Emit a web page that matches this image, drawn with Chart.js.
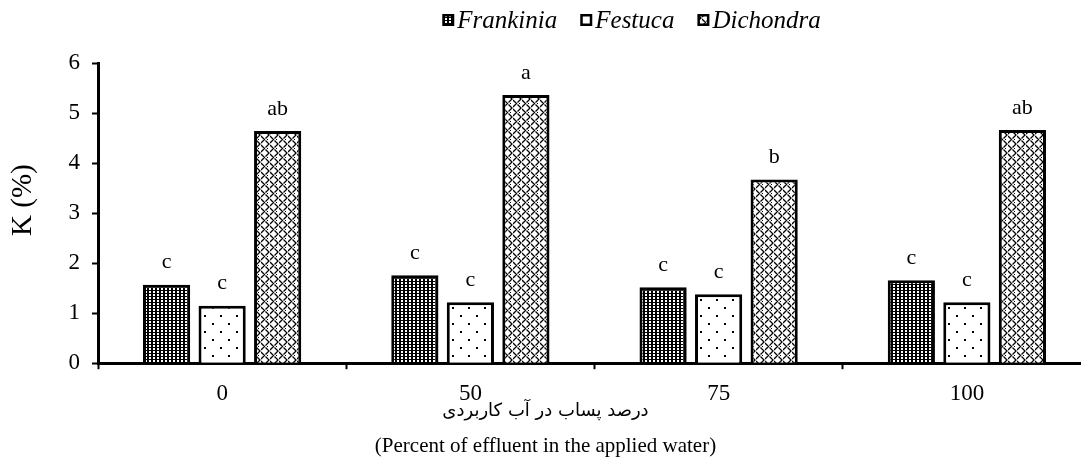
<!DOCTYPE html>
<html>
<head>
<meta charset="utf-8">
<script src="https://cdn.jsdelivr.net/npm/chart.js@4.4.1/dist/chart.umd.min.js"></script>
<style>
  html, body { margin: 0; padding: 0; background: #fff; overflow: hidden; }
  #wrap { width: 1100px; height: 461px; position: relative; }
</style>
</head>
<body>
<div id="wrap"><canvas id="myChart"></canvas></div>
<script>
// les données
const categories = ["0", "50", "75", "100"];
const species = ["Frankinia", "Festuca", "Dichondra"];
const frankinia = [1.57, 1.76, 1.52, 1.66];
const festuca = [1.15, 1.22, 1.38, 1.22];
const dichondra = [4.64, 5.36, 3.67, 4.66];
const lettersFrankinia = ["c", "c", "c", "c"];
const lettersFestuca = ["c", "c", "c", "c"];
const lettersDichondra = ["ab", "a", "b", "ab"];
const yTicks = [0, 1, 2, 3, 4, 5, 6];
const yTitle = "K (%)";

const SERIF = "'Liberation Serif', 'Times New Roman', serif";
const ARABIC = "'DejaVu Sans', sans-serif";

// motifs de remplissage (hachures façon Excel)
function makePattern(w, h, draw) {
  const c = document.createElement("canvas");
  c.width = w;
  c.height = h;
  const g = c.getContext("2d");
  draw(g);
  return document.createElement("canvas").getContext("2d").createPattern(c, "repeat");
}

const patFrankinia = makePattern(4, 3, (g) => {
  g.fillStyle = "#000";
  g.fillRect(0, 0, 4, 3);
  g.fillStyle = "#fff";
  g.fillRect(1, 0, 2, 2);
});

const patFestuca = makePattern(16, 16, (g) => {
  g.fillStyle = "#fff";
  g.fillRect(0, 0, 16, 16);
  g.fillStyle = "#000";
  g.fillRect(4, 3, 2, 2);
  g.fillRect(12, 11, 2, 2);
});

const patDichondra = makePattern(9, 9, (g) => {
  g.fillStyle = "#fff";
  g.fillRect(0, 0, 9, 9);
  g.strokeStyle = "#000";
  g.lineWidth = 1.3;
  g.beginPath();
  g.moveTo(0, 1); g.lineTo(3.5, 4.5); g.lineTo(0, 8);
  g.moveTo(4.5, -3.5); g.lineTo(8, 0); g.lineTo(4.5, 3.5);
  g.moveTo(4.5, 5.5); g.lineTo(8, 9); g.lineTo(4.5, 12.5);
  g.stroke();
  g.fillStyle = "#000";
  g.fillRect(6, 4, 1, 1);
});

const patterns = [patFrankinia, patFestuca, patDichondra];
const letters = [lettersFrankinia, lettersFestuca, lettersDichondra];

// lettres de comparaison au-dessus des barres + titre de l'axe Y
const lettersPlugin = {
  id: "letters",
  afterDatasetsDraw(chart) {
    const c = chart.ctx;
    c.save();
    c.font = "22px " + SERIF;
    c.fillStyle = "#000";
    c.textAlign = "center";
    c.textBaseline = "bottom";
    chart.data.datasets.forEach((ds, i) => {
      chart.getDatasetMeta(i).data.forEach((bar, j) => {
        c.fillText(letters[i][j], bar.x, bar.y - 11);
      });
    });
    // titre Y un peu au-dessus du centre, comme sur l'original
    c.translate(23, chart.chartArea.top + (chart.chartArea.bottom - chart.chartArea.top) / 2 - 13);
    c.rotate(-Math.PI / 2);
    c.font = "29px " + SERIF;
    c.textBaseline = "middle";
    c.fillText(yTitle, 0, 0);
    c.restore();
  },
};

// légende dessinée à la main (décalée à droite comme sur l'original)
const legendPlugin = {
  id: "myLegend",
  afterDraw(chart) {
    const c = chart.ctx;
    c.save();
    c.font = "italic 25px " + SERIF;
    const box = 12, gap = 3, space = 23;
    const widths = species.map((s) => box + gap + c.measureText(s).width);
    const total = widths.reduce((a, b) => a + b, 0) + space * (species.length - 1);
    let x = (chart.chartArea.left + chart.chartArea.right) / 2 + 37 - total / 2;
    const y = 20;
    species.forEach((s, i) => {
      c.fillStyle = "#000";
      c.fillRect(x, y - box / 2, box, box);
      c.fillStyle = i === 1 ? "#fff" : patterns[i];
      c.fillRect(x + 2.5, y - box / 2 + 2.5, box - 5, box - 5);
      c.fillStyle = "#000";
      c.textBaseline = "middle";
      c.textAlign = "left";
      c.fillText(s, x + box + gap, y + 1);
      x += widths[i] + space;
    });
    c.restore();
  },
};

const ctx = document.querySelector("#myChart").getContext("2d");

const CONFIG = {
  type: "bar",
  data: {
    labels: categories,
    datasets: [
      { label: species[0], data: frankinia, backgroundColor: patFrankinia },
      { label: species[1], data: festuca, backgroundColor: patFestuca },
      { label: species[2], data: dichondra, backgroundColor: patDichondra },
    ].map((d) => Object.assign(d, {
      borderColor: "#000",
      borderWidth: 3,
      categoryPercentage: 0.671,
      barPercentage: 0.85,
    })),
  },
  options: {
    responsive: true,
    maintainAspectRatio: false,
    animation: false,
    devicePixelRatio: 1,
    layout: { padding: { top: 63, right: 9, left: 0, bottom: 0 } },
    plugins: {
      legend: { display: false },
      tooltip: { enabled: false },
      title: {
        display: true,
        position: "bottom",
        text: "(Percent of effluent in the applied water)",
        color: "#000",
        font: { family: SERIF, size: 21, weight: "normal" },
        padding: { top: 1, bottom: 2 },
      },
      subtitle: {
        display: true,
        position: "bottom",
        text: "درصد پساب در آب کاربردی",
        color: "#000",
        font: { family: ARABIC, size: 18 },
        padding: { top: 0, bottom: 11 },
      },
    },
    scales: {
      x: {
        border: { color: "#000", width: 3 },
        grid: { drawOnChartArea: false, tickLength: 6, tickColor: "#000", tickWidth: 2 },
        ticks: { color: "#000", font: { family: SERIF, size: 23 }, padding: 11 },
        afterFit(scale) { scale.height = 37; },
      },
      y: {
        min: 0,
        max: 6,
        border: { color: "#000", width: 3 },
        grid: { drawOnChartArea: false, tickLength: 6, tickColor: "#000", tickWidth: 2 },
        afterBuildTicks(scale) { scale.ticks = yTicks.map((v) => ({ value: v })); },
        ticks: { color: "#000", font: { family: SERIF, size: 23 }, padding: 12 },
        afterFit(scale) { scale.width = 98; },
      },
    },
  },
  plugins: [lettersPlugin, legendPlugin],
};

const chartBar = new Chart(ctx, CONFIG);
</script>
</body>
</html>
